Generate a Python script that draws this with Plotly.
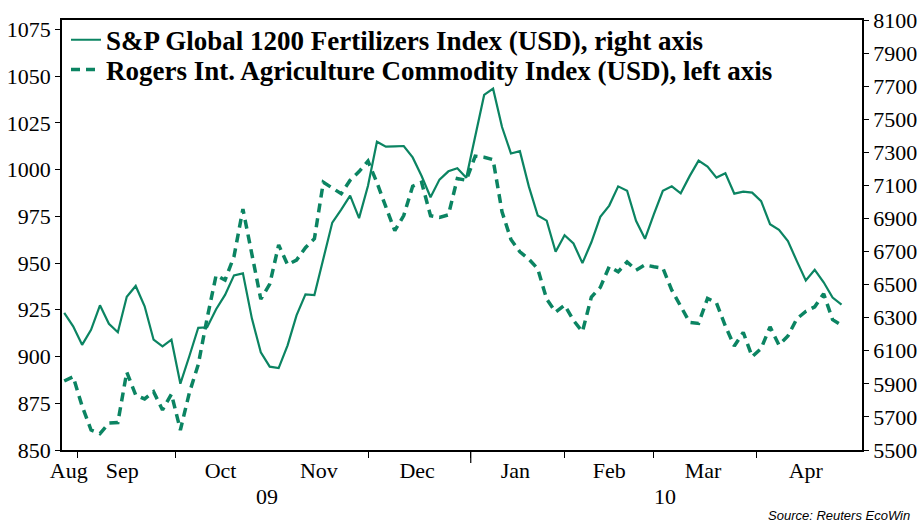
import pandas as pd
import plotly.graph_objects as go

# Sample dates: every second business day
dates = pd.bdate_range(start="2009-08-27", end="2010-04-28", freq="2B")

# S&P Global 1200 Fertilizers Index (USD) - right axis
sp_fert = [6329, 6248, 6136, 6227, 6375, 6263, 6212, 6426, 6492, 6369,
           6167, 6127, 6167, 5901, 6067, 6239, 6242, 6351, 6438, 6556,
           6568, 6296, 6091, 6004, 5995, 6133, 6314, 6441, 6437, 6648,
           6875, 6954, 7038, 6902, 7098, 7364, 7334, 7336, 7338, 7269,
           7157, 7028, 7135, 7185, 7204, 7146, 7395, 7647, 7685, 7453,
           7293, 7307, 7094, 6918, 6887, 6699, 6799, 6749, 6630, 6756,
           6910, 6978, 7094, 7068, 6886, 6777, 6926, 7067, 7094, 7052,
           7156, 7250, 7214, 7147, 7173, 7050, 7062, 7056, 7005, 6865,
           6832, 6763, 6642, 6525, 6589, 6514, 6422, 6379]

# Rogers Int. Agriculture Commodity Index (USD) - left axis
rogers_agri = [886.9, 889.2, 873.5, 860.7, 858.8, 864.4, 864.7, 891.7, 879.4, 877.3,
               881.2, 871.4, 879.9, 860.7, 880.5, 895.7, 920.6, 943.5, 940.9, 953.5,
               978.9, 954.8, 930.7, 938.7, 959.7, 949.1, 951.6, 958.2, 963.0, 993.2,
               990.0, 987.1, 994.3, 998.9, 1004.5, 993.0, 980.0, 967.3, 975.4, 991.1,
               993.2, 975.3, 974.4, 975.8, 995.2, 994.3, 1007.2, 1006.6, 1005.3, 977.4,
               962.6, 956.0, 952.1, 946.9, 930.7, 923.8, 927.5, 919.3, 913.3, 931.8,
               937.0, 948.1, 945.3, 950.6, 946.2, 949.0, 948.0, 947.3, 935.5, 926.4,
               918.3, 917.7, 931.1, 928.7, 916.3, 905.6, 912.9, 899.9, 904.3, 915.9,
               906.1, 911.0, 920.2, 924.1, 926.6, 933.6, 919.7, 916.8]

month_starts = ["2009-09-01", "2009-10-01", "2009-11-01", "2009-12-01", "2010-01-01",
                "2010-02-01", "2010-03-01", "2010-04-01", "2010-05-01"]
month_label_pos = ["2009-08-28", "2009-09-15", "2009-10-15", "2009-11-16", "2009-12-16",
                   "2010-01-15", "2010-02-15", "2010-03-16", "2010-04-16"]
month_labels = ["Aug", "Sep", "Oct", "Nov", "Dec", "Jan", "Feb", "Mar", "Apr"]
year_label_pos = ["2009-10-29 12:00", "2010-03-03 12:00"]
year_labels = ["09", "10"]
left_ticks = [850, 875, 900, 925, 950, 975, 1000, 1025, 1050, 1075]
right_ticks = [5500, 5700, 5900, 6100, 6300, 6500, 6700, 6900, 7100, 7300, 7500, 7700, 7900, 8100]

GREEN = "#0B8462"
SERIF = "Liberation Serif"
LEG_FONT = dict(family=SERIF, size=27, color="black", weight="bold")

fig = go.Figure()
fig.add_trace(go.Scatter(
    x=dates, y=sp_fert, yaxis="y2", mode="lines", legend="legend",
    name="S&P Global 1200 Fertilizers Index (USD), right axis",
    line=dict(color=GREEN, width=2.2),
))
fig.add_trace(go.Scatter(
    x=dates, y=rogers_agri, yaxis="y", mode="lines", legend="legend2",
    name="Rogers Int. Agriculture Commodity Index (USD), left axis",
    line=dict(color=GREEN, width=3.5, dash="9px,6px"),
))

fig.update_layout(
    width=917, height=522,
    margin=dict(l=62, r=55, t=20, b=72, autoexpand=False),
    paper_bgcolor="white", plot_bgcolor="white",
    font=dict(family=SERIF, size=22, color="black"),
    showlegend=True,
    legend=dict(x=0.005, y=0.953, xanchor="left", yanchor="middle",
                bgcolor="rgba(0,0,0,0)", font=LEG_FONT, itemwidth=30),
    legend2=dict(x=0.005, y=0.884, xanchor="left", yanchor="middle",
                 bgcolor="rgba(0,0,0,0)", font=LEG_FONT, itemwidth=30),
    xaxis=dict(
        type="date", automargin=False,
        range=["2009-08-26 12:00", "2010-05-04 14:00"],
        rangebreaks=[dict(bounds=["sat", "mon"])],
        tickmode="array", tickvals=month_label_pos, ticktext=month_labels,
        ticks="", showgrid=False, zeroline=False,
        showline=True, linecolor="black", linewidth=1.5, mirror=True,
        tickfont=dict(family=SERIF, size=22, color="black"),
        minor=dict(tickmode="array", tickvals=month_starts, ticks="outside",
                   ticklen=6, tickwidth=1.2, tickcolor="black", showgrid=False),
    ),
    yaxis=dict(
        range=[850, 1080], tickmode="array", tickvals=left_ticks, automargin=False,
        ticks="outside", ticklen=5, tickcolor="black",
        showgrid=False, zeroline=False,
        showline=True, linecolor="black", linewidth=1.5,
        tickfont=dict(family=SERIF, size=22, color="black"),
    ),
    yaxis2=dict(
        range=[5500, 8100], tickmode="array", tickvals=right_ticks, automargin=False,
        overlaying="y", side="right",
        ticks="outside", ticklen=5, tickcolor="black",
        showgrid=False, zeroline=False,
        showline=True, linecolor="black", linewidth=1.5,
        tickfont=dict(family=SERIF, size=22, color="black"),
    ),
)

# longer tick at the year boundary
fig.add_shape(type="line", xref="x", yref="paper",
              x0="2010-01-01", x1="2010-01-01", y0=0, y1=-0.03,
              line=dict(color="black", width=1.2))

for pos, lab in zip(year_label_pos, year_labels):
    fig.add_annotation(x=pos, y=-0.109, xref="x", yref="paper", text=lab,
                       showarrow=False, yanchor="middle",
                       font=dict(family=SERIF, size=22, color="black"))

fig.add_annotation(x=1.0625, y=-0.153, xref="paper", yref="paper",
                   text="<i>Source: Reuters EcoWin</i>", showarrow=False,
                   xanchor="right", yanchor="middle",
                   font=dict(family="Liberation Sans", size=13, color="black"))

fig.write_html("out.html",
               config={"displayModeBar": False},
               post_script="document.body.style.margin='0';document.body.style.overflow='hidden';")
